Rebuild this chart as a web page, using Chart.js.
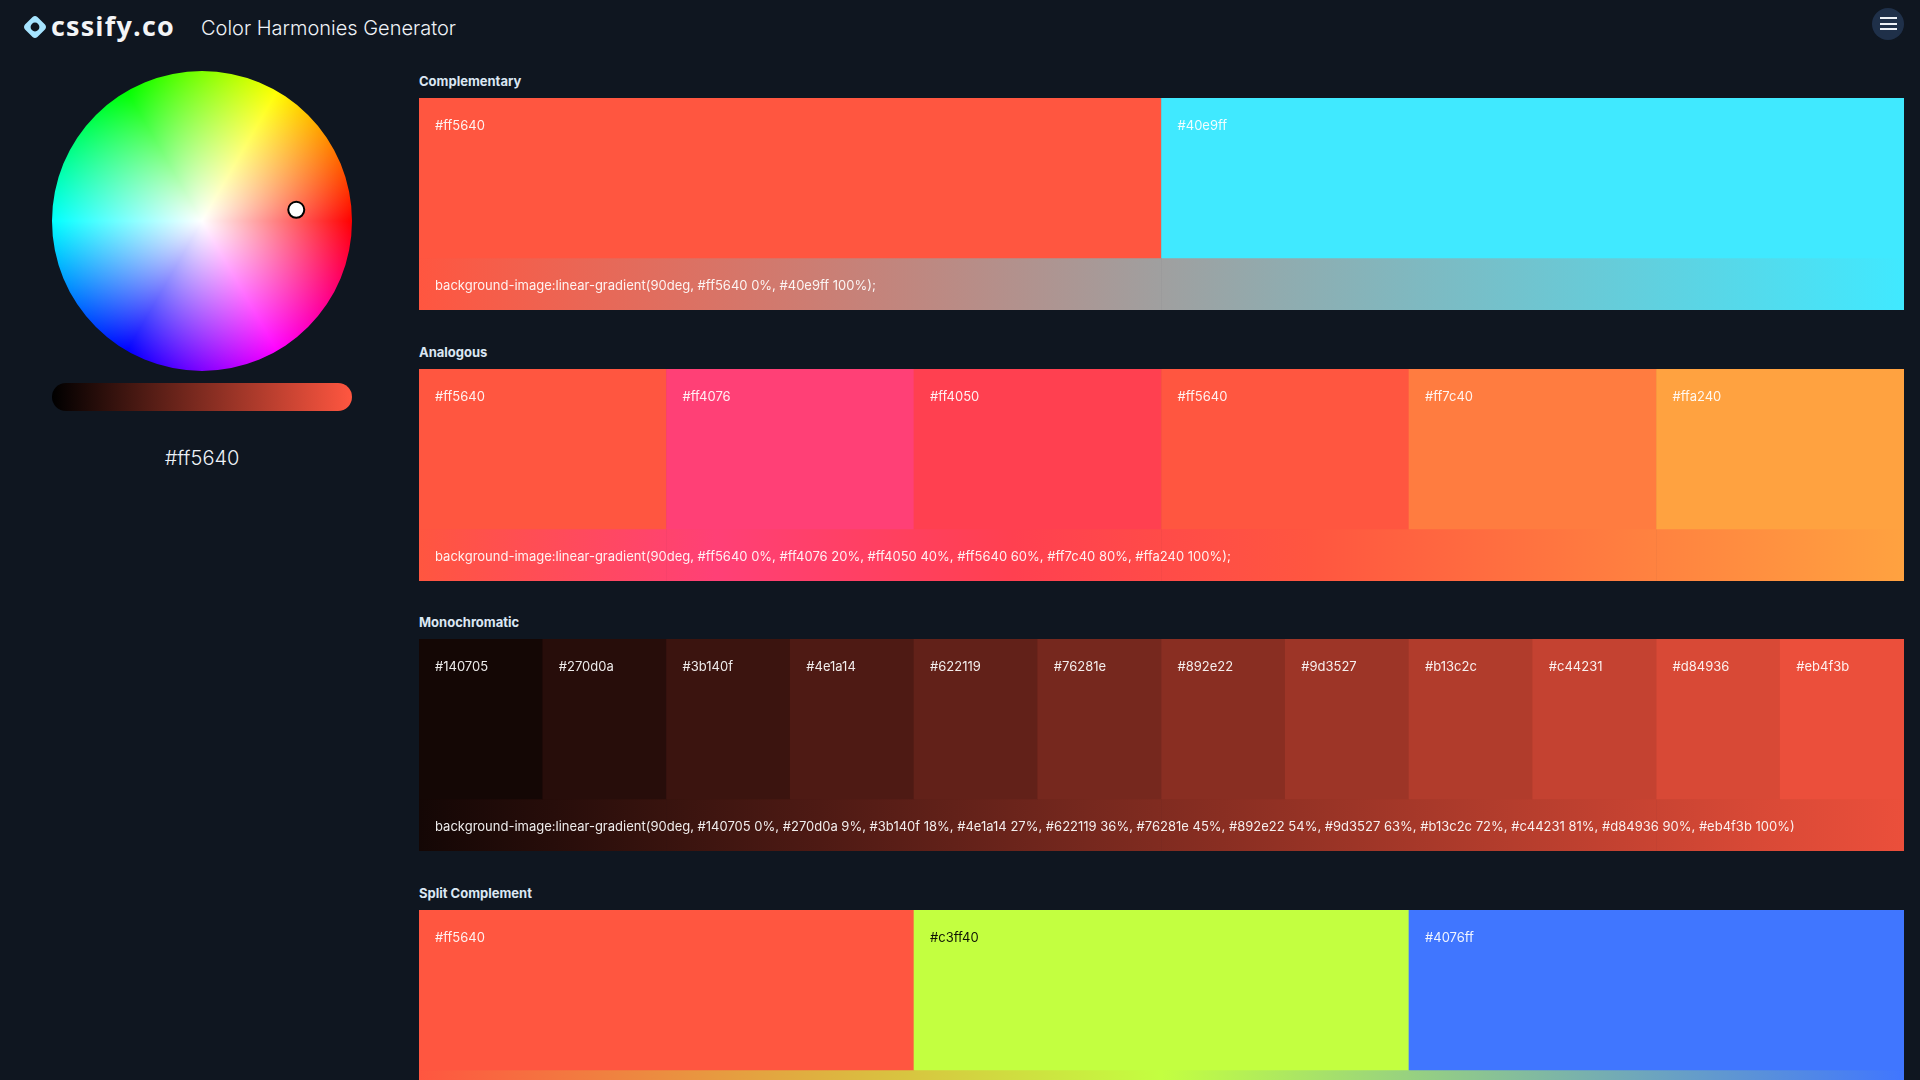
<!DOCTYPE html>
<html lang="en">
<head>
  <meta charset="UTF-8" />
  <title>Color Harmonies Generator</title>
  <script src="https://cdn.jsdelivr.net/npm/chart.js"></script>
  <style>
    html, body { margin: 0; height: 100%; overflow: hidden; background: #0f1620; color: #fff; font-family: "Inter", sans-serif; }
    canvas { position: absolute; display: block; }
    .logo { position: absolute; left: 24px; top: 16px; width: 22px; height: 22px; }
    .brand { position: absolute; left: 51px; top: 7px; font: 700 27px/38px "Open Sans", sans-serif; letter-spacing: 1.2px; color: #f3f4f6; }
    .title { position: absolute; left: 201px; top: 15px; font-size: 20px; line-height: 26px; font-weight: 300; color: #eef2f7; }
    .menu { position: absolute; left: 1872px; top: 8px; width: 32px; height: 32px; border-radius: 50%; background: #1f3049; }
    .menu i { position: absolute; left: 8px; width: 17px; height: 2px; background: #eef2f7; }
    .hex { position: absolute; left: 52px; width: 300px; top: 445px; text-align: center; font-size: 20px; line-height: 26px; font-weight: 300; color: #eef2f7; }
    .section { position: absolute; left: 419px; width: 1485px; height: 212px; }
    .section h3 { position: absolute; left: 0; top: -25px; margin: 0; font-size: 13px; line-height: 16px; font-weight: 700; color: #dbe7f3; }
    .label, .css { position: absolute; font-size: 13px; line-height: 16px; white-space: nowrap; color: #fff; opacity: .92; }
    .label { top: 19px; }
    .css { left: 16px; top: 179px; }
  </style>
</head>
<body>
  <svg class="logo" viewBox="0 0 22 22">
    <path fill="#a6e4ff" fill-rule="evenodd" d="M8.6 1 Q11 -1 13.4 1 L21 8.6 Q23 11 21 13.4 L13.4 21 Q11 23 8.6 21 L1 13.4 Q-1 11 1 8.6 Z M11 6.6 A4.4 4.4 0 1 0 11 15.4 A4.4 4.4 0 1 0 11 6.6 Z" />
  </svg>
  <div class="brand">cssify.co</div>
  <div class="title">Color Harmonies Generator</div>
  <div class="menu"><i style="top:9px"></i><i style="top:15px"></i><i style="top:20px"></i></div>
  <canvas id="wheel" width="300" height="300" style="left:52px;top:71px"></canvas>
  <canvas id="wheelMarker" width="300" height="300" style="left:52px;top:71px"></canvas>
  <canvas id="slider" width="300" height="28" style="left:52px;top:383px"></canvas>
  <div class="hex">#ff5640</div>
  <div id="sections"></div>

  <script>
    const currentColor = '#ff5640';

    const complementaryColors = ['#ff5640', '#40e9ff'];
    const complementaryStops = [0, 100];
    const analogousColors = ['#ff5640', '#ff4076', '#ff4050', '#ff5640', '#ff7c40', '#ffa240'];
    const analogousStops = [0, 20, 40, 60, 80, 100];
    const monochromaticColors = ['#140705', '#270d0a', '#3b140f', '#4e1a14', '#622119', '#76281e', '#892e22', '#9d3527', '#b13c2c', '#c44231', '#d84936', '#eb4f3b'];
    const monochromaticStops = [0, 9, 18, 27, 36, 45, 54, 63, 72, 81, 90, 100];
    const splitColors = ['#ff5640', '#c3ff40', '#4076ff'];
    const splitStops = [0, 50, 100];

    const wheelHues = ['#ff0000', '#ff00ff', '#0000ff', '#00ffff', '#00ff00', '#ffff00', '#ff0000'];
    const wheelMarkerX = [101];
    const wheelMarkerY = [12];
    const sliderRange = [0, 255];
    const sliderValue = [255];

    Chart.defaults.animation = false;
    Chart.defaults.responsive = false;
    Chart.defaults.devicePixelRatio = 1;
    Chart.defaults.plugins.legend.display = false;
    Chart.defaults.plugins.tooltip.enabled = false;

    const hidden = (min, max) => ({ display: false, min: min, max: max });

    function stripGradient(chart, colors, stops) {
      const area = chart.chartArea;
      if (!area) return colors[0];
      const g = chart.ctx.createLinearGradient(area.left, 0, area.right, 0);
      colors.forEach((c, i) => g.addColorStop(stops[i] / 100, c));
      return g;
    }

    function addSection(title, top, colors, stops, cssEnd) {
      const box = document.createElement('div');
      box.className = 'section';
      box.style.top = top + 'px';
      box.innerHTML = `<h3>${title}</h3><canvas width="1485" height="212"></canvas>`;
      document.getElementById('sections').appendChild(box);

      const chart = new Chart(box.querySelector('canvas'), {
        type: 'bar',
        data: {
          labels: colors,
          datasets: [
            { label: 'swatch', data: colors.map(() => [52, 212]), backgroundColor: colors },
            { label: 'gradient', data: colors.map(() => [0, 52]), backgroundColor: ctx => stripGradient(ctx.chart, colors, stops) }
          ]
        },
        options: {
          datasets: { bar: { grouped: false, categoryPercentage: 1, barPercentage: 1 } },
          scales: { x: { display: false }, y: hidden(0, 212) }
        }
      });

      chart.getDatasetMeta(0).data.forEach((bar, i) => {
        const label = document.createElement('div');
        label.className = 'label';
        label.textContent = colors[i];
        label.style.left = (bar.x - bar.width / 2 + 16) + 'px';
        if (colors[i] === '#c3ff40') label.style.color = '#000';
        box.appendChild(label);
      });

      // the strip text of the last section falls below the window
      if (top + 179 < 1080) {
        const css = document.createElement('div');
        css.className = 'css';
        css.textContent = 'background-image:linear-gradient(90deg, ' + colors.map((c, i) => `${c} ${stops[i]}%`).join(', ') + ')' + cssEnd;
        box.appendChild(css);
      }
    }

    addSection('Complementary', 98, complementaryColors, complementaryStops, ';');
    addSection('Analogous', 369, analogousColors, analogousStops, ';');
    addSection('Monochromatic', 639, monochromaticColors, monochromaticStops, '');
    addSection('Split Complement', 910, splitColors, splitStops, ';');

    // hue wheel: one full pie slice filled with a conic gradient, whitened towards the middle
    new Chart(document.getElementById('wheel'), {
      type: 'pie',
      data: {
        labels: ['hue'],
        datasets: [{
          data: [360],
          borderWidth: 0,
          backgroundColor: ctx => {
            const area = ctx.chart.chartArea;
            if (!area) return wheelHues[0];
            const g = ctx.chart.ctx.createConicGradient(0, (area.left + area.right) / 2, (area.top + area.bottom) / 2);
            wheelHues.forEach((c, i) => g.addColorStop(i / (wheelHues.length - 1), c));
            return g;
          }
        }]
      },
      plugins: [{
        id: 'whiteCentre',
        afterDatasetsDraw(chart) {
          const arc = chart.getDatasetMeta(0).data[0];
          const c = chart.ctx;
          const g = c.createRadialGradient(arc.x, arc.y, 0, arc.x, arc.y, arc.outerRadius);
          g.addColorStop(0, 'rgba(255,255,255,1)');
          g.addColorStop(1, 'rgba(255,255,255,0)');
          c.save();
          c.fillStyle = g;
          c.beginPath();
          c.arc(arc.x, arc.y, arc.outerRadius, 0, Math.PI * 2);
          c.fill();
          c.restore();
        }
      }]
    });

    const markerSets = points => [
      { data: points, pointRadius: 8, pointBackgroundColor: '#fff', pointBorderColor: '#000', pointBorderWidth: 2, clip: false },
      { data: points, pointRadius: 5, pointBackgroundColor: currentColor, pointBorderWidth: 0, clip: false }
    ];

    new Chart(document.getElementById('wheelMarker'), {
      type: 'scatter',
      data: { datasets: markerSets(wheelMarkerX.map((x, i) => ({ x: x, y: wheelMarkerY[i] }))) },
      options: { scales: { x: hidden(-150, 150), y: hidden(-150, 150) } }
    });

    // brightness slider: a thick round-capped line across the value scale
    new Chart(document.getElementById('slider'), {
      type: 'scatter',
      data: {
        datasets: [
          {
            data: sliderRange.map(v => ({ x: v, y: 0 })),
            showLine: true,
            pointRadius: 0,
            borderWidth: 28,
            borderCapStyle: 'round',
            clip: false,
            borderColor: ctx => {
              const g = ctx.chart.ctx.createLinearGradient(0, 0, ctx.chart.width, 0);
              g.addColorStop(0, '#000000');
              g.addColorStop(1, currentColor);
              return g;
            }
          },
          ...markerSets(sliderValue.map(v => ({ x: v, y: 0 })))
        ]
      },
      options: {
        layout: { padding: { left: 14, right: 14 } },
        scales: { x: hidden(0, 255), y: hidden(-1, 1) }
      }
    });
  </script>
</body>
</html>
